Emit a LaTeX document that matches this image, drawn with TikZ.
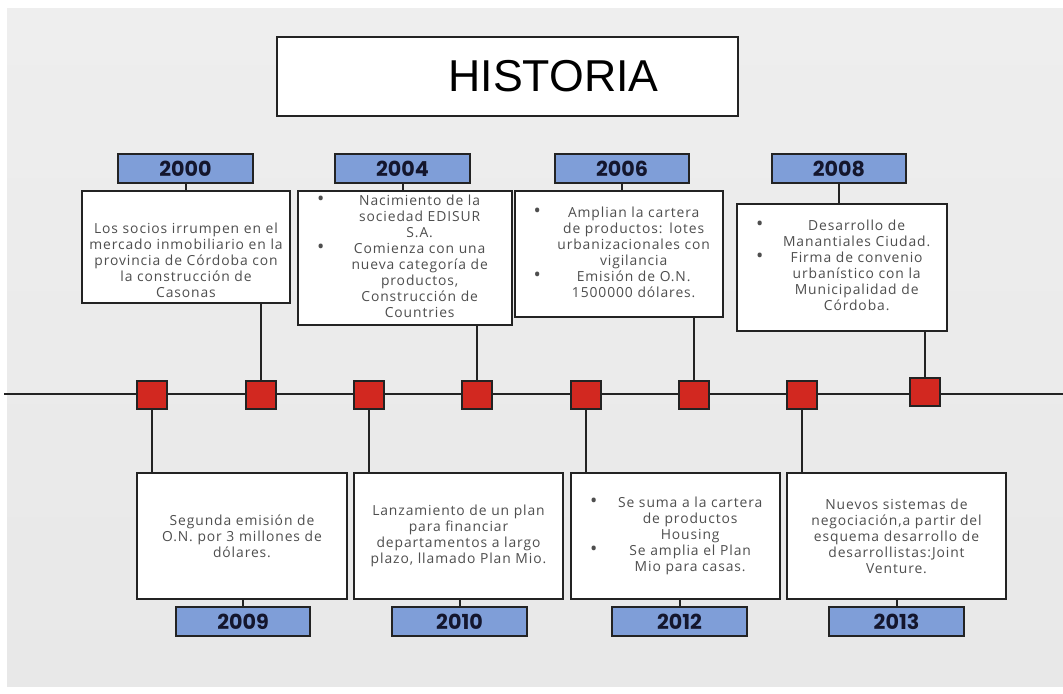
\documentclass[tikz,border=0pt]{standalone}
\usepackage{fontspec}
\setmainfont[LetterSpace=6.5]{Open Sans}
\newfontfamily\yearfont{Poppins}
\newfontfamily\titlefont{Liberation Sans}
\usepackage{tikz}
\usetikzlibrary{positioning, calc}
\definecolor{yearblue}{RGB}{127,158,216}
\definecolor{sqred}{RGB}{210,40,32}
\definecolor{txtgray}{RGB}{78,78,78}
\definecolor{edgegray}{RGB}{35,35,35}
\definecolor{yeartxt}{RGB}{20,22,45}
\definecolor{bgtop}{RGB}{238,238,238}
\definecolor{bgmid}{RGB}{222,222,222}
\definecolor{bgbot}{RGB}{232,232,232}

% bullet line: dot on the left, text centred in the rest
\newcommand{\bitem}[1]{\lineskip=0pt\noindent\makebox[22pt][r]{\strut\scalebox{1.4}{\textbullet}\hspace{5pt}}\parbox[t]{\dimexpr\hsize-22pt\relax}{\centering #1\strut}\par}

\begin{document}
\begin{tikzpicture}[x=0.75pt, y=-0.75pt, line width=1.5pt, draw=edgegray]
	\def \rowtop{168.5}
	\def \rowbot{621.5}
	\def \lineht{394}
	\tikzstyle{yr-node}=[draw=edgegray, fill=yearblue, minimum width=101pt, minimum height=22pt, inner sep=0pt, text=yeartxt, font=\yearfont\bfseries\fontsize{15.5pt}{17pt}\selectfont]
	\tikzstyle{t-node}=[draw=edgegray, fill=white, align=center, inner sep=2pt, text=txtgray, font=\fontsize{10.4pt}{12pt}\selectfont]
	\tikzstyle{sq-node}=[draw=edgegray, fill=sqred, minimum width=22.5pt, minimum height=21pt, inner sep=0pt]

	\useasboundingbox (0,0) rectangle (1063,693);
	\fill[white] (0,0) rectangle (1063,693);
	\shade[top color=bgtop, middle color=bgmid, bottom color=bgbot] (7,8) rectangle (1063,686);

	\node[draw=edgegray, line width=0.8pt, fill=white, minimum width=345.75pt, minimum height=59.25pt, font=\titlefont\fontsize{33.5pt}{36pt}\selectfont] (title) at (507.5,76.5) {\hspace*{69pt}HISTORIA};

	% timeline
	\coordinate (tl-l) at (4,\lineht);
	\coordinate (tl-r) at (1063,\lineht);
	\draw (tl-l) -- (tl-r);
	\foreach \i/\x in {1/152,2/261,3/369,4/477,5/586,6/694,7/802}
		\node[sq-node] (sq\i) at (\x,395) {};
	\node[sq-node] (sq8) at (925,392) {};

	% years
	\node[yr-node] (y2000) at (185.5,\rowtop) {2000};
	\node[yr-node] (y2004) at (402.5,\rowtop) {2004};
	\node[yr-node] (y2006) at (622,\rowtop) {2006};
	\node[yr-node] (y2008) at (839,\rowtop) {2008};
	\node[yr-node] (y2009) at (243,\rowbot) {2009};
	\node[yr-node] (y2010) at (459.5,\rowbot) {2010};
	\node[yr-node] (y2012) at (679.5,\rowbot) {2012};
	\node[yr-node] (y2013) at (896.5,\rowbot) {2013};

	% upper boxes
	\node[t-node, minimum width=156pt, minimum height=84pt, text width=151pt] (b2000) at (186,247)
		{\rule{0pt}{28pt}Los socios irrumpen en el\\ mercado inmobiliario en la\\ provincia de Córdoba con\\ la construcción de\\ Casonas};
	\node[t-node, minimum width=160.5pt, minimum height=100.5pt, text width=155pt] (b2004) at (405,258)
		{\bitem{Nacimiento de la\\ sociedad EDISUR\\ S.A.}\bitem{Comienza con una\\ nueva categoría de\\ productos,\\ Construcción de\\ Countries}};
	\node[t-node, minimum width=156pt, minimum height=94.5pt, text width=151pt] (b2006) at (619,254)
		{\bitem{Amplian la cartera\\ de productos: lotes\\ urbanizacionales con\\ vigilancia}\bitem{Emisión de O.N.\\ 1500000 dólares.}};
	\node[t-node, minimum width=157.5pt, minimum height=95.25pt, text width=152pt] (b2008) at (842,267.5)
		{\bitem{Desarrollo de\\ Manantiales Ciudad.}\bitem{Firma de convenio\\ urbanístico con la\\ Municipalidad de\\ Córdoba.}};

	% lower boxes
	\node[t-node, minimum width=157.5pt, minimum height=94.5pt, text width=152pt] (b2009) at (242,536)
		{Segunda emisión de\\ O.N. por 3 millones de\\ dólares.};
	\node[t-node, minimum width=156.75pt, minimum height=94.5pt, text width=151pt] (b2010) at (458.5,536)
		{Lanzamiento de un plan\\ para financiar\\ departamentos a largo\\ plazo, llamado Plan Mio.};
	\node[t-node, minimum width=156.75pt, minimum height=94.5pt, text width=151pt] (b2012) at (675.5,536)
		{\bitem{Se suma a la cartera\\ de productos\\ Housing}\bitem{Se amplia el Plan\\ Mio para casas.}};
	\node[t-node, minimum width=164.25pt, minimum height=94.5pt, text width=159pt] (b2013) at (896.5,536)
		{Nuevos sistemas de\\ negociación,a partir del\\ esquema desarrollo de\\ desarrollistas:Joint\\ Venture.};

	% connectors
	\foreach \yr in {2000,2004,2006,2008}
		\draw (y\yr.south) -- (y\yr.south |- b\yr.north);
	\foreach \yr in {2009,2010,2012,2013}
		\draw (b\yr.south -| y\yr) -- (y\yr.north);
	\foreach \yr/\s in {2000/2,2004/4,2006/6,2008/8}
		\draw (b\yr.south -| sq\s) -- (sq\s.north);
	\foreach \yr/\s in {2009/1,2010/3,2012/5,2013/7}
		\draw (sq\s.south) -- (sq\s.south |- b\yr.north);
\end{tikzpicture}
\end{document}
